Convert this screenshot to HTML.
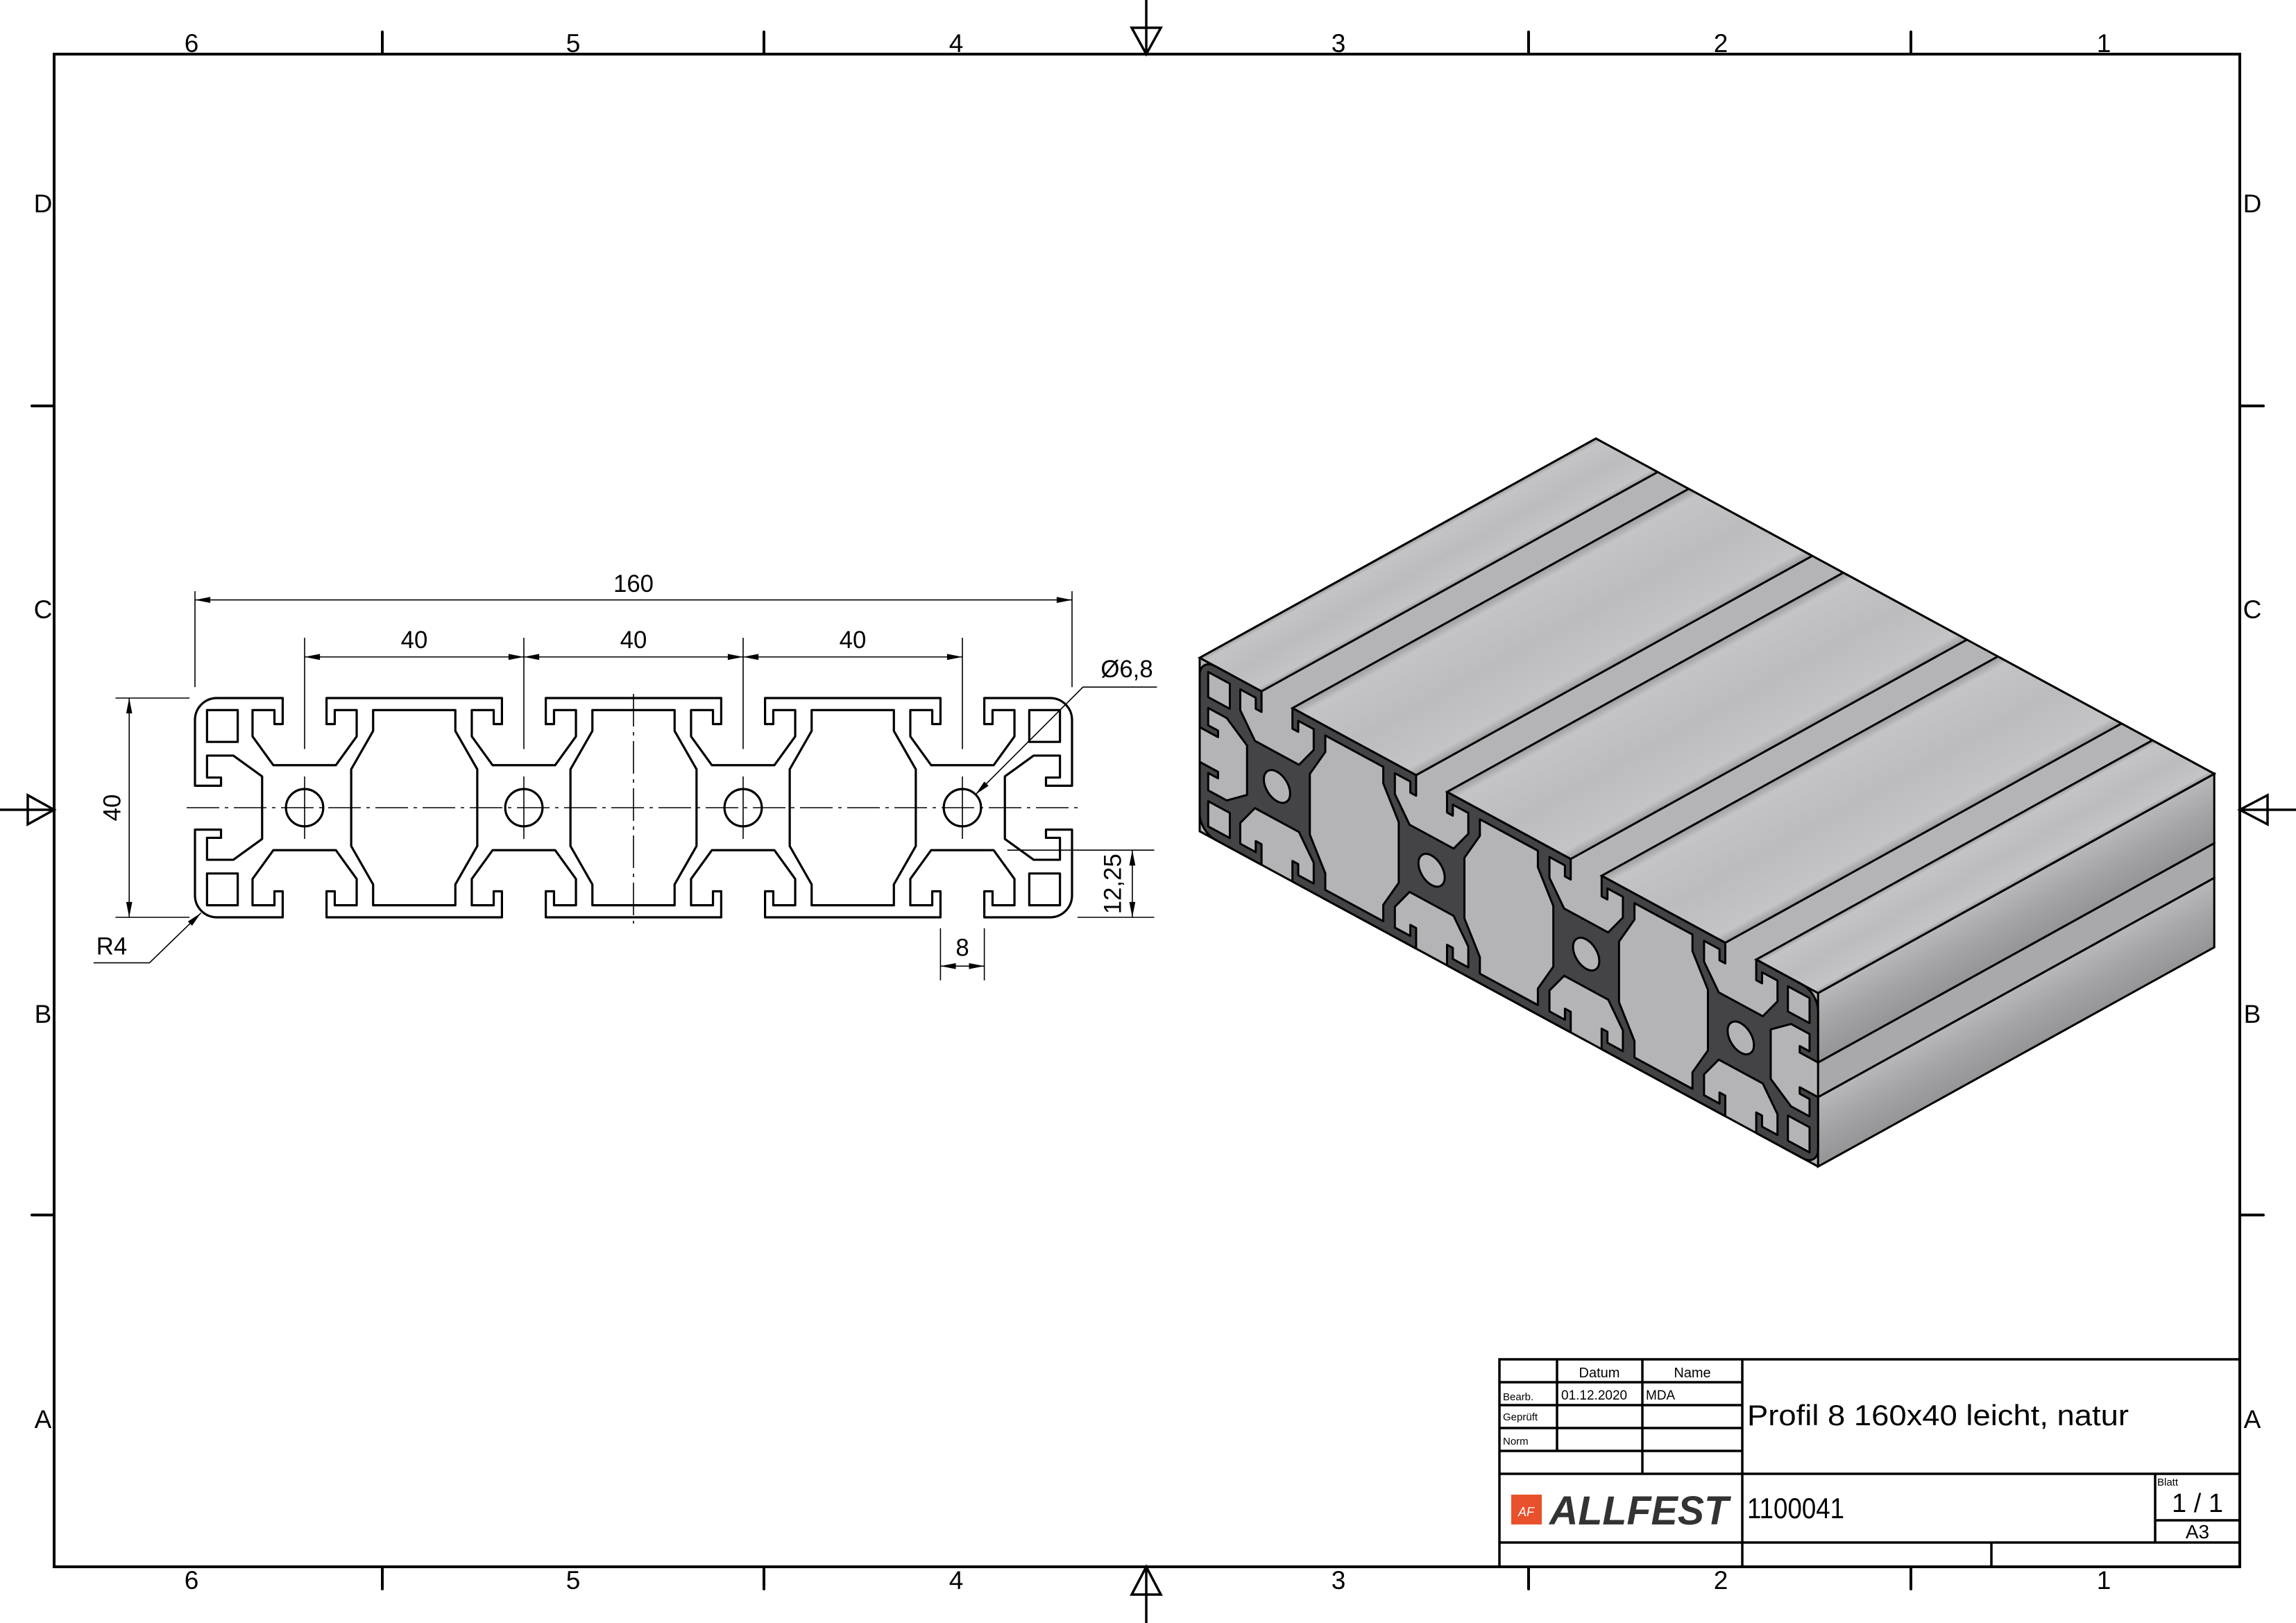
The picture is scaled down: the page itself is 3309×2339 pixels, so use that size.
<!DOCTYPE html>
<html><head><meta charset="utf-8"><style>
html,body{margin:0;padding:0;background:#fff;}
svg{display:block;}
text{font-family:"Liberation Sans Narrow","Liberation Sans",sans-serif;fill:#000;}
</style></head><body>
<svg width="3309" height="2339" viewBox="0 0 3309 2339" xmlns="http://www.w3.org/2000/svg">
<defs>
<path id="prof" vector-effect="non-scaling-stroke" d="M4,0 H16 v4.75 h-1.5 v-2.55 h-4 v4.8 l3.8,5.25 h11.4 l3.8,-5.25 v-4.8 h-4 v2.55 h-1.5 v-4.75 H56 v4.75 h-1.5 v-2.55 h-4 v4.8 l3.8,5.25 h11.4 l3.8,-5.25 v-4.8 h-4 v2.55 h-1.5 v-4.75 H96 v4.75 h-1.5 v-2.55 h-4 v4.8 l3.8,5.25 h11.4 l3.8,-5.25 v-4.8 h-4 v2.55 h-1.5 v-4.75 H136 v4.75 h-1.5 v-2.55 h-4 v4.8 l3.8,5.25 h11.4 l3.8,-5.25 v-4.8 h-4 v2.55 h-1.5 v-4.75 H156 A4,4 0 0 1 160,4 V16 h-4.75 v-1.5 h2.55 v-4 h-4.8 l-5.25,3.8 v11.4 l5.25,3.8 h4.8 v-4 h-2.55 v-1.5 h4.75 V36 A4,4 0 0 1 156,40 H144 v-4.75 h1.5 v2.55 h4 v-4.8 l-3.8,-5.25 h-11.4 l-3.8,5.25 v4.8 h4 v-2.55 h1.5 v4.75 H104 v-4.75 h1.5 v2.55 h4 v-4.8 l-3.8,-5.25 h-11.4 l-3.8,5.25 v4.8 h4 v-2.55 h1.5 v4.75 H64 v-4.75 h1.5 v2.55 h4 v-4.8 l-3.8,-5.25 h-11.4 l-3.8,5.25 v4.8 h4 v-2.55 h1.5 v4.75 H24 v-4.75 h1.5 v2.55 h4 v-4.8 l-3.8,-5.25 h-11.4 l-3.8,5.25 v4.8 h4 v-2.55 h1.5 v4.75 H4 A4,4 0 0 1 0,36 V24 h4.75 v1.5 h-2.55 v4 h4.8 l5.25,-3.8 v-11.4 l-5.25,-3.8 h-4.8 v4 h2.55 v1.5 h-4.75 V4 A4,4 0 0 1 4,0 Z
M32.5,2.2 H47.5 V6 L51.5,13 V27 L47.5,34 V37.8 H32.5 V34 L28.5,27 V13 L32.5,6 Z
M72.5,2.2 H87.5 V6 L91.5,13 V27 L87.5,34 V37.8 H72.5 V34 L68.5,27 V13 L72.5,6 Z
M112.5,2.2 H127.5 V6 L131.5,13 V27 L127.5,34 V37.8 H112.5 V34 L108.5,27 V13 L112.5,6 Z
M2.2,2.2 H7.8 V8 H2.2 Z M2.2,32 H7.8 V37.8 H2.2 Z M152.2,2.2 H157.8 V8 H152.2 Z M152.2,32 H157.8 V37.8 H152.2 Z
M16.6,20 a3.4,3.4 0 1,0 6.8,0 a3.4,3.4 0 1,0 -6.8,0 Z
M56.6,20 a3.4,3.4 0 1,0 6.8,0 a3.4,3.4 0 1,0 -6.8,0 Z
M96.6,20 a3.4,3.4 0 1,0 6.8,0 a3.4,3.4 0 1,0 -6.8,0 Z
M136.6,20 a3.4,3.4 0 1,0 6.8,0 a3.4,3.4 0 1,0 -6.8,0 Z"/>
<linearGradient id="strip" x1="0" y1="0" x2="1" y2="0">
<stop offset="0" stop-color="#9c9c9e"/><stop offset="0.08" stop-color="#c4c4c6"/><stop offset="0.5" stop-color="#bcbcbe"/><stop offset="0.92" stop-color="#c4c4c6"/><stop offset="1" stop-color="#9c9c9e"/>
</linearGradient>
<linearGradient id="side" x1="0" y1="0" x2="1" y2="0">
<stop offset="0" stop-color="#b8b8ba"/><stop offset="0.5" stop-color="#a4a4a6"/><stop offset="1" stop-color="#959597"/>
</linearGradient>
</defs>

<!-- Frame -->
<g stroke="#000" fill="none" stroke-width="4" stroke-linecap="round">
<rect x="78" y="78" width="3150" height="2180"/>
<path d="M551,46V78 M1101,46V78 M2203,46V78 M2754,46V78 M551,2258V2290 M1101,2258V2290 M2203,2258V2290 M2754,2258V2290 M46,585H78 M46,1751H78 M3228,585H3262 M3228,1751H3262"/>
<path d="M1652,0V78 M1631,40H1673L1652,78Z M1652,2258V2339 M1631,2298H1673L1652,2258Z M0,1167H78 M40,1146V1188L78,1167Z M3228,1167H3309 M3268,1146V1188L3228,1167Z" stroke-width="3.5"/>
</g>
<g font-size="37" text-anchor="middle">
<text x="276" y="75">6</text><text x="826" y="75">5</text><text x="1378" y="75">4</text><text x="1929" y="75">3</text><text x="2480" y="75">2</text><text x="3032" y="75">1</text>
<text x="276" y="2290">6</text><text x="826" y="2290">5</text><text x="1378" y="2290">4</text><text x="1929" y="2290">3</text><text x="2480" y="2290">2</text><text x="3032" y="2290">1</text>
<text x="62" y="306">D</text><text x="62" y="891">C</text><text x="62" y="1474">B</text><text x="62" y="2058">A</text>
<text x="3246" y="306">D</text><text x="3246" y="891">C</text><text x="3246" y="1474">B</text><text x="3246" y="2058">A</text>
</g>

<!-- 2D section -->
<path d="M269,1164H1558 M913,1000V1331" stroke="#000" stroke-width="1.6" stroke-dasharray="47 8 5 8" fill="none"/>
<g transform="translate(281,1006) scale(7.9)">
<use href="#prof" fill="none" stroke="#000" stroke-width="3.2" stroke-linejoin="round"/>
<g stroke="#000" stroke-width="1.6" fill="none">
<path vector-effect="non-scaling-stroke" d="M0,-19.5V-2 M160,-19.5V-2 M0,-17.9H160 M20,-11V9.3 M60,-11V9.3 M100,-11V9.3 M140,-11V9.3 M20,-7.5H140 M20,14.3V25.7 M60,14.3V25.7 M100,14.3V25.7 M140,14.3V25.7 M-14.5,0H-1 M-14.5,40H-1 M-12,0V40 M1.1,39.2L-8.3,48.3H-18.5 M142.4,17.6L162,-2H175.5 M148.2,27.75H175 M161,40H175 M171,27.75V40 M136,42V51.5 M144,42V51.5 M136,48.9H144"/>
</g>
<g fill="#000">
<polygon points="0,-17.9 2.8,-18.45 2.8,-17.35"/><polygon points="160,-17.9 157.2,-18.45 157.2,-17.35"/>
<polygon points="20,-7.5 22.8,-8.05 22.8,-6.95"/><polygon points="60,-7.5 57.2,-8.05 57.2,-6.95"/>
<polygon points="60,-7.5 62.8,-8.05 62.8,-6.95"/><polygon points="100,-7.5 97.2,-8.05 97.2,-6.95"/>
<polygon points="100,-7.5 102.8,-8.05 102.8,-6.95"/><polygon points="140,-7.5 137.2,-8.05 137.2,-6.95"/>
<polygon points="-12,0 -12.55,2.8 -11.45,2.8"/><polygon points="-12,40 -12.55,37.2 -11.45,37.2"/>
<polygon points="171,27.75 170.45,30.55 171.55,30.55"/><polygon points="171,40 170.45,37.2 171.55,37.2"/>
<polygon points="136,48.9 138.8,48.35 138.8,49.45"/><polygon points="144,48.9 141.2,48.35 141.2,49.45"/>
<polygon points="1.1,39.2 -0.53,41.54 -1.29,40.76"/><polygon points="142.4,17.6 144.77,16.01 143.99,15.23"/>
</g>
<g font-size="4.4" text-anchor="middle">
<text x="80" y="-19.4">160</text>
<text x="40" y="-9.1">40</text><text x="80" y="-9.1">40</text><text x="120" y="-9.1">40</text>
<text transform="translate(-13.6,20) rotate(-90)">40</text>
<text transform="translate(168.9,33.9) rotate(-90)">12,25</text>
<text x="140" y="47">8</text>
<text x="-15.2" y="46.8">R4</text>
<text x="170" y="-3.8">Ø6,8</text>
</g>
</g>

<!-- 3D view -->
<polygon points="1729,948 2300,632 3191,1115 3191,1365 2620,1681 1729,1198" fill="#b4b4b6" stroke="#000" stroke-width="3" stroke-linejoin="round"/>
<g transform="matrix(0,6.25,571,-316,2620.2,1431.2)" stroke="#000" stroke-width="3">
<rect x="16" y="0" width="8" height="1" fill="#a9a9ab" vector-effect="non-scaling-stroke"/>
<rect x="0" y="0" width="16" height="1" fill="url(#side)" vector-effect="non-scaling-stroke"/>
<rect x="24" y="0" width="16" height="1" fill="url(#side)" vector-effect="non-scaling-stroke"/>
</g>
<g transform="matrix(5.57,3.02,571,-316,1729,948)" stroke="#000" stroke-width="3" fill="url(#strip)">
<rect x="0" y="0" width="16" height="1" vector-effect="non-scaling-stroke"/>
<rect x="24" y="0" width="32" height="1" vector-effect="non-scaling-stroke"/>
<rect x="64" y="0" width="32" height="1" vector-effect="non-scaling-stroke"/>
<rect x="104" y="0" width="32" height="1" vector-effect="non-scaling-stroke"/>
<rect x="144" y="0" width="16" height="1" vector-effect="non-scaling-stroke"/>
</g>
<g transform="matrix(5.57,3.02,0,6.25,1729,948)">
<use href="#prof" fill="#444446" fill-rule="evenodd" stroke="#000" stroke-width="3" stroke-linejoin="round"/>
</g>

<!-- Title block -->
<g stroke="#000" stroke-width="3.5" fill="none">
<rect x="2161" y="1959" width="1067" height="299"/>
<path d="M2161,1992H2511 M2161,2025H2511 M2161,2058H2511 M2161,2091H2511 M2161,2124H3228 M2161,2223H3228 M3106,2191H3228 M2244,1959V2091 M2367,1959V2124 M2511,1959V2258 M3106,2124V2223 M2870,2223V2258"/>
</g>
<g>
<text x="2305" y="1985" font-size="20" text-anchor="middle">Datum</text>
<text x="2439" y="1985" font-size="20" text-anchor="middle">Name</text>
<text x="2166" y="2018" font-size="15">Bearb.</text>
<text x="2250" y="2017" font-size="19">01.12.2020</text>
<text x="2372" y="2017" font-size="19">MDA</text>
<text x="2166" y="2047" font-size="15">Geprüft</text>
<text x="2166" y="2082" font-size="15">Norm</text>
<text x="2518" y="2054" font-size="42" textLength="550" lengthAdjust="spacingAndGlyphs">Profil 8 160x40 leicht, natur</text>
<text x="2518" y="2188" font-size="42" textLength="140" lengthAdjust="spacingAndGlyphs">1100041</text>
<text x="3109" y="2141" font-size="15">Blatt</text>
<text x="3167" y="2179" font-size="38" text-anchor="middle">1 / 1</text>
<text x="3167" y="2217" font-size="28" text-anchor="middle">A3</text>
<rect x="2178" y="2154" width="44" height="43" fill="#e8512b"/>
<text x="2188" y="2185" font-size="18" style="fill:#fff;font-style:italic">AF</text>
<text x="2233" y="2197" font-size="58" font-weight="bold" font-style="italic" textLength="258" lengthAdjust="spacingAndGlyphs" style="font-family:'Liberation Sans',sans-serif;fill:#333">ALLFEST</text>
</g>
</svg>
</body></html>
